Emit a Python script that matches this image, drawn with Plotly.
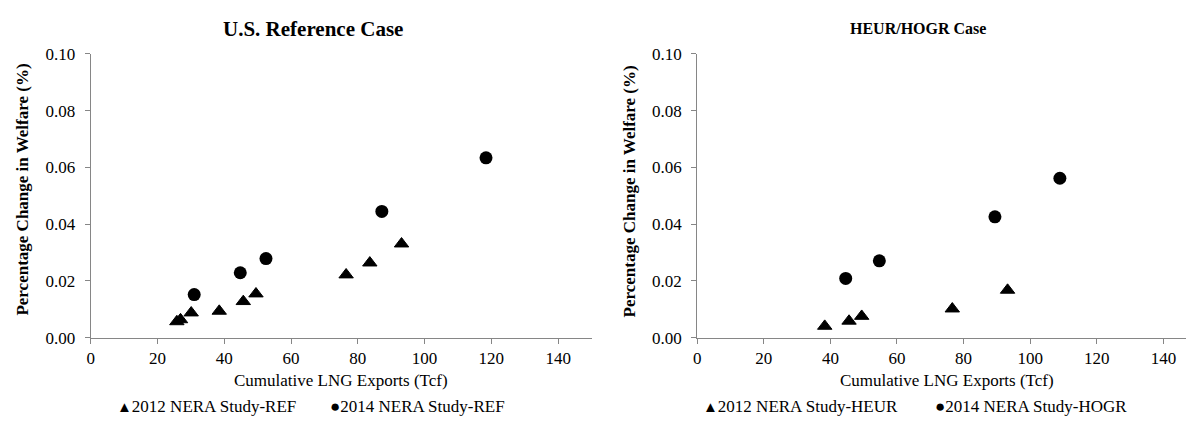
import plotly.graph_objects as go

# ---- data ----
ref2012_x = [25.8, 26.9, 30.1, 38.5, 45.7, 49.5, 76.5, 83.6, 93.1]
ref2012_y = [0.0057, 0.0064, 0.0088, 0.0094, 0.0128, 0.0155, 0.0222, 0.0264, 0.0331]
ref2014_x = [31.0, 44.8, 52.5, 87.2, 118.4]
ref2014_y = [0.0152, 0.0229, 0.0279, 0.0445, 0.0634]
heur2012_x = [38.3, 45.6, 49.4, 76.6, 93.2]
heur2012_y = [0.0041, 0.0059, 0.0076, 0.0102, 0.0168]
hogr2014_x = [44.6, 54.7, 89.4, 108.9]
hogr2014_y = [0.0209, 0.0271, 0.0426, 0.0562]

left_title = "U.S. Reference Case"
right_title = "HEUR/HOGR Case"
x_title = "Cumulative LNG Exports (Tcf)"
y_title = "Percentage Change in Welfare (%)"
left_names = ["2012 NERA Study-REF", "2014 NERA Study-REF"]
right_names = ["2012 NERA Study-HEUR", "2014 NERA Study-HOGR"]

W, H = 1186, 429
FONT = "Liberation Serif"
AX = "#868686"

fig = go.Figure()

tri = dict(symbol="triangle-up", size=12.5, color="black", line=dict(color="black", width=1))
cir = dict(symbol="circle", size=13, color="black", line=dict(width=0))

fig.add_trace(go.Scatter(x=ref2012_x, y=ref2012_y, mode="markers", marker=tri,
                         name=left_names[0], xaxis="x", yaxis="y", showlegend=False))
fig.add_trace(go.Scatter(x=ref2014_x, y=ref2014_y, mode="markers", marker=cir,
                         name=left_names[1], xaxis="x", yaxis="y", showlegend=False))
fig.add_trace(go.Scatter(x=heur2012_x, y=heur2012_y, mode="markers", marker=tri,
                         name=right_names[0], xaxis="x2", yaxis="y2", showlegend=False))
fig.add_trace(go.Scatter(x=hogr2014_x, y=hogr2014_y, mode="markers", marker=cir,
                         name=right_names[1], xaxis="x2", yaxis="y2", showlegend=False))

def px_x(p):
    return p / W

def px_y(p):
    return 1 - p / H

common_x = dict(showline=True, linecolor=AX, linewidth=1, ticks="outside", ticklen=5,
                tickcolor=AX, tickwidth=1, showgrid=False, zeroline=False, tick0=0, dtick=20,
                tickfont=dict(family=FONT, size=17, color="black"), fixedrange=True)
common_y = dict(showline=True, linecolor=AX, linewidth=1, ticks="outside", ticklen=5,
                tickcolor=AX, tickwidth=1, showgrid=False, zeroline=False, tick0=0, dtick=0.02,
                tickformat=".2f", range=[0, 0.1], ticklabelstandoff=6,
                tickfont=dict(family=FONT, size=17, color="black"), fixedrange=True)

ydom = [px_y(344), px_y(47)]
fig.update_layout(
    width=W, height=H, margin=dict(l=0, r=0, t=0, b=0),
    paper_bgcolor="white", plot_bgcolor="white",
    showlegend=False,
    xaxis=dict(domain=[px_x(87), px_x(589.5)], range=[0, 150], anchor="y", **common_x),
    yaxis=dict(domain=ydom, anchor="x", **common_y),
    xaxis2=dict(domain=[px_x(695.5), 1.0], range=[0, (W - 695.5) / 3.342], anchor="y2", **common_x),
    yaxis2=dict(domain=ydom, anchor="x2", **common_y),
)

ann = []
def add(text, x, y, size=17, bold=False, angle=0, xanchor="center"):
    t = f"<b>{text}</b>" if bold else text
    ann.append(dict(text=t, x=px_x(x), y=px_y(y), xref="paper", yref="paper",
                    xanchor=xanchor, yanchor="middle", showarrow=False, textangle=angle,
                    font=dict(family=FONT, size=size, color="black")))

add(left_title, 310, 21, size=21, bold=True)
add(right_title, 917, 20, size=16, bold=True)
add(x_title, 338, 389)
add(x_title, 946, 389)
add(y_title, 19, 189, bold=True, angle=-90)
add(y_title, 628, 191, bold=True, angle=-90)

sym_tri = '<span style="font-size:15px">▲</span>'
sym_cir = '<span style="font-size:17px">●</span>'
add(sym_tri + left_names[0], 111, 416, xanchor="left")
add(sym_cir + left_names[1], 325, 416, xanchor="left")
add(sym_tri + right_names[0], 699, 416, xanchor="left")
add(sym_cir + right_names[1], 932, 416, xanchor="left")

fig.update_layout(annotations=ann)

fig.write_html("out.html", include_plotlyjs=True, full_html=True,
               config={"displayModeBar": False})

with open("out.html", "r", encoding="utf-8") as f:
    html = f.read()
style = "<style>html,body{margin:0;padding:0;overflow:hidden;background:#fff;}</style>"
html = html.replace("<head>", "<head>" + style, 1)
with open("out.html", "w", encoding="utf-8") as f:
    f.write(html)
